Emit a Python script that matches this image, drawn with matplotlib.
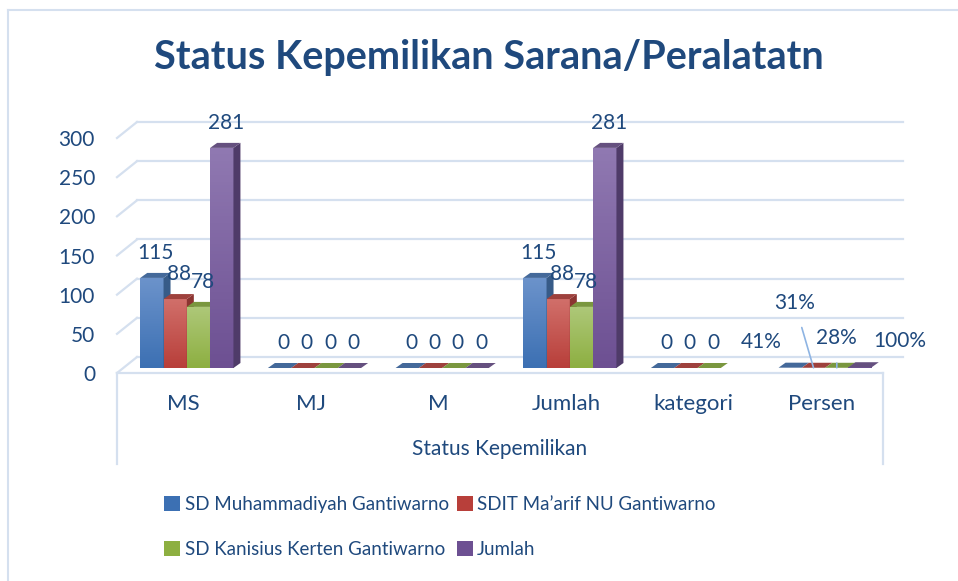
import numpy as np
import matplotlib.pyplot as plt
from matplotlib.patches import Polygon, Patch
from matplotlib.transforms import offset_copy
from matplotlib.colors import LinearSegmentedColormap

plt.rcParams["font.family"] = ["Lato", "DejaVu Sans"]

CATEGORIES = ["MS", "MJ", "M", "Jumlah", "kategori", "Persen"]
SERIES = ["SD Muhammadiyah Gantiwarno", "SDIT Ma\u2019arif NU Gantiwarno",
          "SD Kanisius Kerten Gantiwarno", "Jumlah"]
MUHAMMADIYAH = [115, 0, 0, 115, 0, 0.41]
MAARIF = [88, 0, 0, 88, 0, 0.31]
KANISIUS = [78, 0, 0, 78, 0, 0.28]
JUMLAH = [281, 0, 0, 281, np.nan, 1.00]
Y_TICKS = [0, 50, 100, 150, 200, 250, 300]

TEXT = "#1F497D"
GRID = "#D5E0EF"
# (front bottom, front top, side, top)
PALETTE = [
    ("#3C70B3", "#6C93CB", "#375B88", "#44699A"),
    ("#B83F3A", "#D16F6A", "#8B3431", "#9E413D"),
    ("#8DAF41", "#AEC879", "#6B8634", "#7A973F"),
    ("#6D5092", "#9079B2", "#4F3B69", "#65507F"),
]

# label offsets (pixels) for the hand-placed Persen labels
PERSEN_OFFSETS = [(-29, 26), (-19, 65), (0, 30), (40, 26)]

W, H = 958, 581


def main():
    fig = plt.figure(figsize=(W / 100, H / 100), dpi=100)
    fig.patch.set_facecolor("white")
    # chart border
    fig.add_artist(plt.Line2D([8 / W, 8 / W], [0, 1 - 10 / H], color=GRID, lw=1.5))
    fig.add_artist(plt.Line2D([8 / W, 1], [1 - 10 / H, 1 - 10 / H], color=GRID, lw=1.5))

    ax = fig.add_axes([117 / W, (H - 373) / H, 766 / W, 235 / H])
    ax.axis("off")
    xu = 766 / 6      # px per category
    yu = 235 / 300    # px per unit

    back = offset_copy(ax.transData, fig=fig, x=20, y=16, units="dots")
    bar_tr = offset_copy(ax.transData, fig=fig, x=6, y=5, units="dots")

    # back wall gridlines + side wall diagonals
    for v in Y_TICKS:
        ax.plot([-0.5, 5.5], [v, v], transform=back, color=GRID, lw=1.6,
                clip_on=False, zorder=1)
        ax.plot([-0.5, -0.5 + 20 / xu], [v, v + 16 / yu], color=GRID, lw=1.6,
                clip_on=False, zorder=1)
        ax.annotate(str(v), xy=(-0.5, v), xytext=(-22, -2),
                    textcoords="offset pixels", ha="right", va="center",
                    fontsize=15, color=TEXT, annotation_clip=False)

    # category box
    ax.plot([-0.5, 5.5], [0, 0], color=GRID, lw=1.6, clip_on=False, zorder=1)
    for x in (-0.5, 5.5):
        ax.plot([x, x], [0, -91 / yu], color=GRID, lw=1.6, clip_on=False, zorder=1)
    for i, cat in enumerate(CATEGORIES):
        ax.annotate(cat, xy=(i, 0), xytext=(2, -31), textcoords="offset pixels",
                    ha="center", va="center", fontsize=16, color=TEXT,
                    annotation_clip=False)
    ax.annotate("Status Kepemilikan", xy=(2.5, 0), xytext=(0, -76),
                textcoords="offset pixels", ha="center", va="center",
                fontsize=15, color=TEXT, annotation_clip=False)

    bw = 23.3 / xu
    dx, dy = 7 / xu, 5 / yu
    x = np.arange(len(CATEGORIES))
    grad = np.linspace(0, 1, 64).reshape(-1, 1)

    for j, vals in enumerate([MUHAMMADIYAH, MAARIF, KANISIUS, JUMLAH]):
        fb, ft, side_c, top_c = PALETTE[j]
        z = 3 + 0.1 * j
        xs = x + (j - 2) * bw
        vals = np.asarray(vals, dtype=float)
        bars = ax.bar(xs, np.nan_to_num(vals), width=bw, align="edge",
                      color=fb, linewidth=0, transform=bar_tr, zorder=z)
        cmap = LinearSegmentedColormap.from_list(f"g{j}", [fb, ft])
        for i, (x0, v) in enumerate(zip(xs, vals)):
            if np.isnan(v):
                continue
            x1 = x0 + bw
            if v > 1:
                im = ax.imshow(grad, cmap=cmap, extent=[x0, x1, 0, v],
                               origin="lower", aspect="auto",
                               transform=bar_tr, zorder=z + 0.01)
                im.set_clip_path(bars[i])
                ax.add_patch(Polygon([(x1, 0), (x1, v), (x1 + dx, v + dy), (x1 + dx, dy)],
                                     closed=True, facecolor=side_c, lw=0,
                                     transform=bar_tr, zorder=z + 0.02))
            ax.add_patch(Polygon([(x0, v), (x1, v), (x1 + dx, v + dy), (x0 + dx, v + dy)],
                                 closed=True, facecolor=top_c, lw=0,
                                 transform=bar_tr, zorder=z + 0.03))
            cx = x0 + bw / 2
            if CATEGORIES[i] == "Persen":
                label = f"{v:.0%}"
                ox, oy = PERSEN_OFFSETS[j]
                arrow = None
                if oy > 28:
                    arrow = dict(arrowstyle="-", color="#8EB4E3", lw=1.2,
                                 shrinkA=9, shrinkB=0)
                ax.annotate(label, xy=(cx, v), xycoords=bar_tr,
                            xytext=(ox, oy), textcoords="offset pixels",
                            ha="center", va="center", fontsize=15, color=TEXT,
                            arrowprops=arrow, annotation_clip=False, zorder=6)
            else:
                ax.annotate(f"{v:.0f}", xy=(cx, v), xycoords=bar_tr,
                            xytext=(4, 25), textcoords="offset pixels",
                            ha="center", va="center", fontsize=15, color=TEXT,
                            annotation_clip=False, zorder=6)

    ax.set_xlim(-0.5, 5.5)
    ax.set_ylim(0, 300)

    fig.text(489 / W, 1 - 57 / H, "Status Kepemilikan Sarana/Peralatatn",
             ha="center", va="center", fontsize=28.5, fontweight="bold", color=TEXT)

    # legend fills column-wise, so reorder to read row-wise
    order = [0, 2, 1, 3]
    handles = [Patch(facecolor=PALETTE[j][0], edgecolor="none") for j in order]
    labels = [SERIES[j] for j in order]
    leg = fig.legend(handles, labels, ncol=2, loc="center left",
                     bbox_to_anchor=(155 / W, 1 - 527 / H), frameon=False,
                     fontsize=13.5, handlelength=0.85, handleheight=0.85,
                     handletextpad=0.25, columnspacing=0.4, labelspacing=1.45,
                     borderpad=0)
    for t in leg.get_texts():
        t.set_color(TEXT)

    fig.savefig("out.png", dpi=100, facecolor="white")


if __name__ == "__main__":
    main()
